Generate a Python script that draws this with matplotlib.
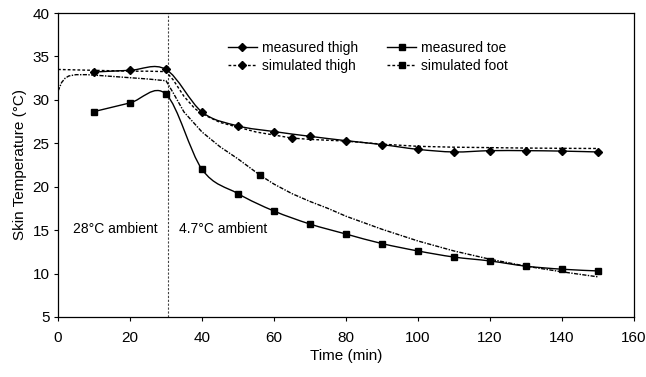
import matplotlib
matplotlib.use("Agg")
import matplotlib.pyplot as plt
from matplotlib.path import Path
from matplotlib.patches import PathPatch
from matplotlib.lines import Line2D

plt.rcParams['font.family'] = ['Liberation Sans', 'DejaVu Sans']

# measured data (every 10 min)
meas_t = [10, 20, 30, 40, 50, 60, 70, 80, 90, 100, 110, 120, 130, 140, 150]
thigh_meas = [33.2, 33.4, 33.5, 28.6, 27.0, 26.35, 25.8, 25.3, 24.85, 24.3, 24.0, 24.15, 24.15, 24.1, 24.0]
toe_meas = [28.65, 29.65, 30.65, 22.0, 19.2, 17.2, 15.7, 14.55, 13.45, 12.6, 11.9, 11.45, 10.85, 10.5, 10.3]

# simulated curves
sim_thigh_t = [0, 5, 10, 15, 20, 25, 30, 32, 35, 38, 40, 45, 50, 55, 60, 65, 70, 80, 90, 100, 110, 120, 130, 140, 150]
sim_thigh = [33.5, 33.45, 33.4, 33.35, 33.3, 33.3, 33.25, 32.3, 30.4, 29.0, 28.4, 27.4, 26.85, 26.3, 25.95, 25.6, 25.45,
             25.25, 24.9, 24.65, 24.55, 24.5, 24.45, 24.42, 24.4]
sim_foot_t = [0, 1, 2, 3, 5, 8, 10, 15, 20, 25, 30, 32, 35, 40, 45, 50, 56, 60, 65, 70, 75, 80, 90, 100, 110, 120,
              130, 140, 150]
sim_foot = [31.0, 32.0, 32.5, 32.75, 32.9, 32.9, 32.85, 32.7, 32.55, 32.4, 32.2, 30.8, 28.6, 26.3, 24.6, 23.2, 21.36,
            20.3, 19.2, 18.3, 17.5, 16.6, 15.1, 13.75, 12.6, 11.65, 10.85, 10.2, 9.62]

# single markers Excel left on the simulated series
sim_thigh_mark = (65, 25.6)
sim_foot_mark = (56, 21.36)

switch_t = 30.6


def smooth_path(xs, ys):
    # Excel-like smoothed line: Catmull-Rom as cubic Bezier segments
    pts = list(zip(xs, ys))
    verts = [pts[0]]
    codes = [Path.MOVETO]
    n = len(pts)
    for i in range(n - 1):
        p0 = pts[i - 1] if i > 0 else pts[i]
        p1 = pts[i]
        p2 = pts[i + 1]
        p3 = pts[i + 2] if i + 2 < n else pts[i + 1]
        c1 = (p1[0] + (p2[0] - p0[0]) / 6, p1[1] + (p2[1] - p0[1]) / 6)
        c2 = (p2[0] - (p3[0] - p1[0]) / 6, p2[1] - (p3[1] - p1[1]) / 6)
        verts += [c1, c2, p2]
        codes += [Path.CURVE4] * 3
    return Path(verts, codes)


fig = plt.figure(figsize=(6.46, 3.77), dpi=100)
ax = fig.add_axes([0.0898, 0.1592, 0.8916, 0.8063])

ax.axvline(switch_t, color='#444444', lw=0.8, ls=(0, (2, 1.5)))

for ys in (thigh_meas, toe_meas):
    ax.add_patch(PathPatch(smooth_path(meas_t, ys), fill=False, ec='black', lw=1.0))

ax.plot(meas_t, thigh_meas, ls='none', marker='D', ms=4.5, color='black')
ax.plot(meas_t, toe_meas, ls='none', marker='s', ms=5, color='black')

ax.plot(sim_thigh_t, sim_thigh, color='black', lw=1.0, ls=(0, (2, 1.5)))
ax.plot(sim_foot_t, sim_foot, color='black', lw=1.0, ls=(0, (3, 1, 1, 1)))
ax.plot(*sim_thigh_mark, marker='D', ms=4.5, color='black')
ax.plot(*sim_foot_mark, marker='s', ms=5, color='black')

ax.text(15.9, 15.1, '28°C ambient', ha='center', va='center', fontsize=10)
ax.text(33.7, 15.1, '4.7°C ambient', ha='left', va='center', fontsize=10)

ax.set_xlim(0, 160)
ax.set_ylim(5, 40)
ax.set_xticks(range(0, 161, 20))
ax.set_yticks(range(5, 41, 5))
ax.tick_params(direction='out', length=3, width=0.8, labelsize=11)
ax.tick_params(axis='x', pad=7)
ax.tick_params(axis='y', pad=3)
ax.set_xlabel('Time (min)', fontsize=11, labelpad=3)
ax.set_ylabel('Skin Temperature (°C)', fontsize=11, labelpad=4)
for s in ax.spines.values():
    s.set_linewidth(0.9)

handles = [
    Line2D([], [], color='black', lw=1.0, marker='D', ms=4.5),
    Line2D([], [], color='black', lw=1.0, ls=(0, (2, 1.5)), marker='D', ms=4.5),
    Line2D([], [], color='black', lw=1.0, marker='s', ms=5),
    Line2D([], [], color='black', lw=1.0, ls=(0, (2, 1.5)), marker='s', ms=5),
]
labels = ['measured thigh', 'simulated thigh', 'measured toe', 'simulated foot']
ax.legend(handles, labels, ncol=2, frameon=False, fontsize=10, handlelength=2.1,
          columnspacing=2.1, handletextpad=0.35, labelspacing=0.3,
          loc='upper left', bbox_to_anchor=(0.273, 0.95))

fig.savefig('out.png', dpi=100)
